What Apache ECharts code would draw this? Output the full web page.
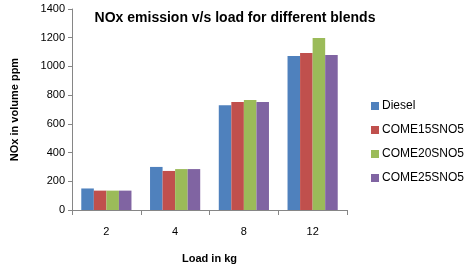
<!DOCTYPE html>
<html>
<head>
<meta charset="utf-8">
<script src="https://cdn.jsdelivr.net/npm/echarts@6/dist/echarts.min.js"></script>
<style>
  html, body { margin: 0; padding: 0; background: #fff; }
  #chart { width: 467px; height: 275px; }
</style>
</head>
<body>
<div id="chart"></div>
<script>
const loads = ['2', '4', '8', '12'];
const diesel = [150, 300, 730, 1072];
const come15 = [135, 272, 752, 1093];
const come20 = [135, 285, 766, 1198];
const come25 = [135, 285, 752, 1079];
const seriesNames = ['Diesel', 'COME15SNO5', 'COME20SNO5', 'COME25SNO5'];
const colors = ['#4F81BD', '#C0504D', '#9BBB59', '#8064A2'];

const chart = echarts.init(document.getElementById('chart'));
const font = 'Liberation Sans, Arial, sans-serif';
const axisGray = '#868686';

const makeBar = (name, data) => ({
  name: name,
  type: 'bar',
  data: data,
  barGap: '0%',
  barCategoryGap: '27%'
});

chart.setOption({
  animation: false,
  backgroundColor: '#fff',
  color: colors,
  title: {
    text: 'NOx emission v/s load for different blends',
    left: 230,
    textAlign: 'center',
    top: 6,
    textStyle: { fontFamily: font, fontSize: 14, fontWeight: 'bold', color: '#000' }
  },
  legend: {
    orient: 'vertical',
    left: 366,
    top: 95,
    itemWidth: 8,
    itemHeight: 8,
    itemGap: 12,
    icon: 'rect',
    textStyle: { fontFamily: font, fontSize: 12, color: '#000', padding: [0, 0, 0, -2] },
    data: seriesNames
  },
  grid: { left: 72, right: 120, top: 9, bottom: 65, containLabel: false },
  xAxis: {
    type: 'category',
    data: loads,
    name: 'Load in kg',
    nameLocation: 'middle',
    nameGap: 43,
    nameTextStyle: { fontFamily: font, fontSize: 11, fontWeight: 'bold', color: '#000' },
    axisLine: { lineStyle: { color: axisGray } },
    axisTick: { show: true, length: 5, lineStyle: { color: axisGray } },
    axisLabel: { fontFamily: font, fontSize: 11, color: '#000', margin: 16 }
  },
  yAxis: {
    type: 'value',
    min: 0,
    max: 1400,
    interval: 200,
    name: 'NOx in volume ppm',
    nameLocation: 'middle',
    nameGap: 52,
    nameTextStyle: { fontFamily: font, fontSize: 11, fontWeight: 'bold', color: '#000' },
    axisLine: { show: true, lineStyle: { color: axisGray } },
    axisTick: { show: true, length: 4, lineStyle: { color: axisGray } },
    splitLine: { show: false },
    axisLabel: { fontFamily: font, fontSize: 11, color: '#000', margin: 7, formatter: v => String(v) }
  },
  series: [
    makeBar(seriesNames[0], diesel),
    makeBar(seriesNames[1], come15),
    makeBar(seriesNames[2], come20),
    makeBar(seriesNames[3], come25)
  ]
});
</script>
</body>
</html>
